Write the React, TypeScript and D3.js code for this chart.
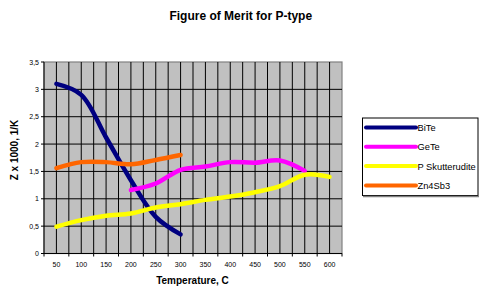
import React from "react";
import * as d3 from "d3";

const categories = ["50","100","150","200","250","300","350","400","450","500","550","600"];
const biTe = [3.10, 2.90, 2.12, 1.34, 0.67, 0.35];
const biTeStart = 0;
const geTe = [1.16, 1.28, 1.53, 1.59, 1.67, 1.66, 1.70, 1.51];
const geTeStart = 3;
const pSkut = [0.49, 0.61, 0.69, 0.73, 0.84, 0.90, 0.98, 1.04, 1.12, 1.23, 1.44, 1.40];
const pSkutStart = 0;
const zn4Sb3 = [1.56, 1.67, 1.67, 1.63, 1.71, 1.80];
const zn4Sb3Start = 0;
const yTicks = [0, 0.5, 1, 1.5, 2, 2.5, 3, 3.5];
const seriesNames = ["BiTe", "GeTe", "P Skutterudite", "Zn4Sb3"];
const seriesColors = ["#000080", "#FF00FF", "#FFFF00", "#FF6600"];

export default function App() {
  const W = 480, H = 287;
  const L = 44, R = 342, T = 62, B = 253.5;
  const x = d3.scaleBand().domain(categories).range([L, R]);
  const y = d3.scaleLinear().domain([0, 3.5]).range([B, T]);
  const cx = (i: number) => (x(categories[i]) as number) + x.bandwidth() / 2;
  const line = d3.line<[number, number]>().x(d => d[0]).y(d => d[1]).curve(d3.curveCatmullRom.alpha(0.5));
  const series = [
    { vals: biTe, start: biTeStart },
    { vals: geTe, start: geTeStart },
    { vals: pSkut, start: pSkutStart },
    { vals: zn4Sb3, start: zn4Sb3Start },
  ];
  const bw = x.bandwidth();
  const vLines: number[] = [];
  for (let i = 0; i <= categories.length * 2; i++) vLines.push(L + (i * bw) / 2);
  const font = "'Liberation Sans', Arial, sans-serif";
  return (
    <svg width={W} height={H} style={{ position: "absolute", left: 0, top: 0 }} fontFamily={font}>
      <rect x={0} y={0} width={W} height={H} fill="#ffffff" />
      <text x={240.8} y={20} textAnchor="middle" fontSize={12} fontWeight="bold">Figure of Merit for P-type</text>
      <rect x={L} y={T} width={R - L} height={B - T} fill="#C0C0C0" stroke="#808080" strokeWidth={1.2} />
      {vLines.slice(1, -1).map((v, i) => (
        <line key={"v" + i} x1={v} x2={v} y1={T} y2={B} stroke="#000" strokeWidth={1} />
      ))}
      {yTicks.slice(1, -1).map((t, i) => (
        <line key={"h" + i} x1={L} x2={R} y1={y(t)} y2={y(t)} stroke="#000" strokeWidth={1} />
      ))}
      <line x1={L} x2={L} y1={T} y2={B} stroke="#000" strokeWidth={1} />
      <line x1={L} x2={R} y1={B} y2={B} stroke="#000" strokeWidth={1} />
      {yTicks.map((t, i) => (
        <g key={"yt" + i}>
          <line x1={L - 3} x2={L} y1={y(t)} y2={y(t)} stroke="#000" />
          <text x={L - 5} y={y(t) + 2.5} textAnchor="end" fontSize={7}>{String(t).replace(".", ",")}</text>
        </g>
      ))}
      {categories.map((c, i) => (
        <g key={"xt" + i}>
          <line x1={L + i * bw} x2={L + i * bw} y1={B} y2={B + 3} stroke="#000" />
          <text x={cx(i)} y={267} textAnchor="middle" fontSize={7}>{c}</text>
        </g>
      ))}
      <line x1={R} x2={R} y1={B} y2={B + 3} stroke="#000" />
      {series.map((s, si) => (
        <path key={"s" + si}
          d={line(s.vals.map((v, i) => [cx(i + s.start), y(v)] as [number, number])) || ""}
          fill="none" stroke={seriesColors[si]} strokeWidth={4.5} strokeLinecap="round" strokeLinejoin="round" />
      ))}
      <text transform={`translate(18.3,150) rotate(-90)`} textAnchor="middle" fontSize={10} fontWeight="bold">Z x 1000, 1/K</text>
      <text x={192.5} y={284} textAnchor="middle" fontSize={10} fontWeight="bold">Temperature, C</text>
      <rect x={362.5} y={118} width={115.5} height={77.5} fill="#fff" stroke="#000" strokeWidth={1} />
      <line x1={363} x2={479} y1={196.5} y2={196.5} stroke="#808080" strokeWidth={1.5} />
      {seriesNames.map((n, i) => {
        const yy = 127.5 + i * 19.3;
        return (
          <g key={"lg" + i}>
            <line x1={366} x2={416} y1={yy} y2={yy} stroke={seriesColors[i]} strokeWidth={4} strokeLinecap="round" />
            <text x={417.5} y={yy + 3.5} fontSize={9.3}>{n}</text>
          </g>
        );
      })}
    </svg>
  );
}
